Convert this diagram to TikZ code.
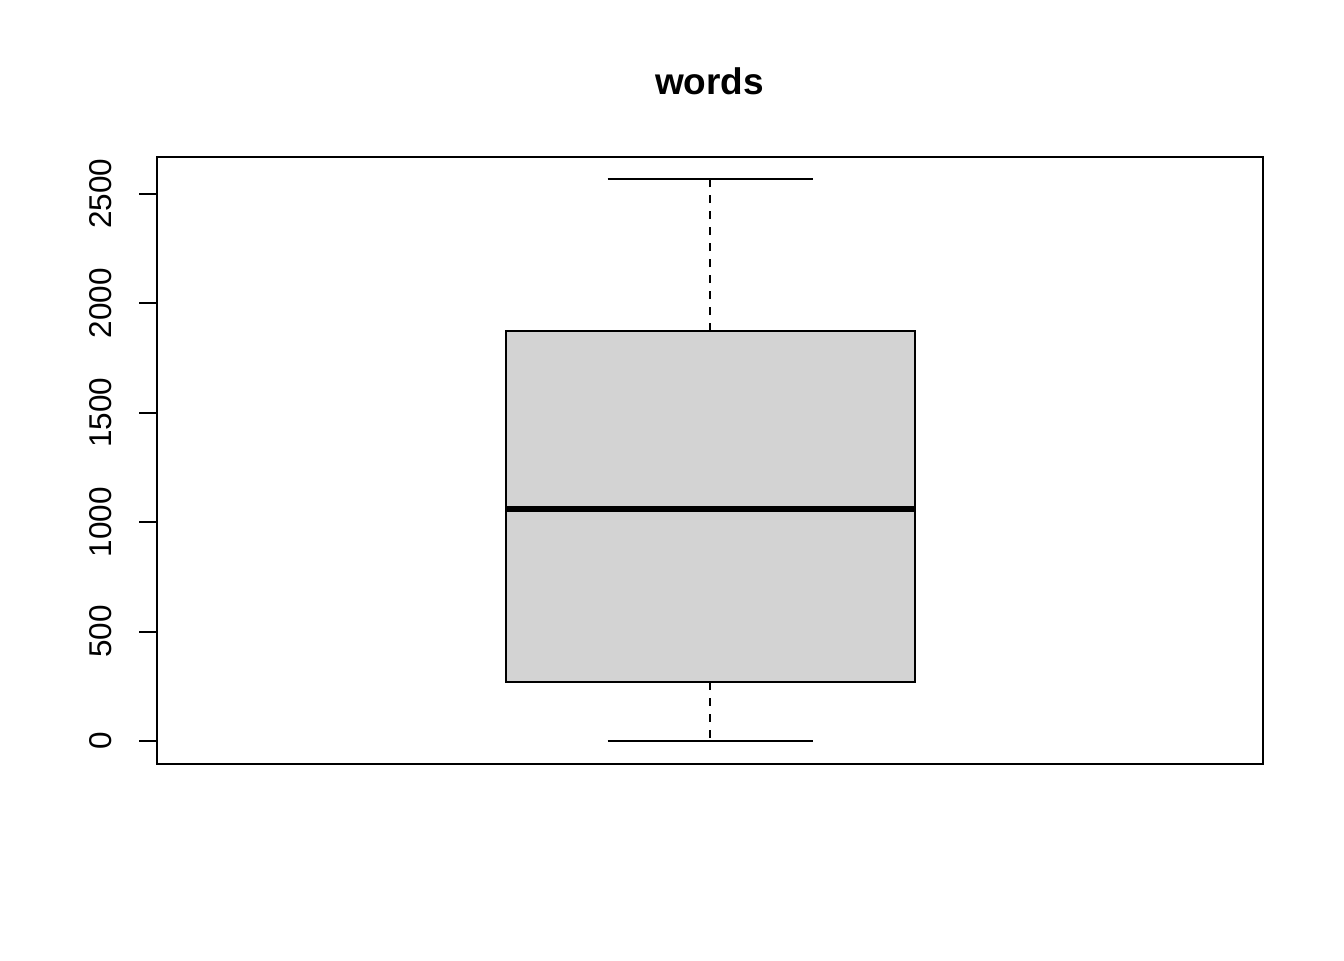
\documentclass[tikz,border=0pt]{standalone}
\usepackage{fontspec}
\setmainfont{Liberation Sans}
\tikzset{every picture/.style={line width=1pt}}
\tikzset{
  ticklabel/.style={anchor=center,inner sep=0pt,rotate=90,font=\fontsize{15.75}{18}\selectfont},
  whisker/.style={dash pattern=on 4pt off 4pt},
}

\begin{document}
\begin{tikzpicture}[x=0.5pt,y=0.5pt,yscale=-1,xscale=1]
\useasboundingbox (0,0) rectangle (1344,960);

% Text Node
\node (title) at (709.5,81) [anchor=center,inner sep=0pt] {\fontsize{18.5}{22}\selectfont\bfseries words};

%Shape: Rectangle [id:plotframe]
\draw (157,157) rectangle (1263,764);

%Shape: Rectangle [id:box]
\draw [fill={rgb, 255:red, 211; green, 211; blue, 211}] (505.5,331) rectangle (915,682);
%Straight Lines [id:median]
\draw [line width=3pt] (505.5,509) -- (915,509);

%Straight Lines [id:whiskers]
\draw [whisker] (710,331) -- (710,179);
\draw [whisker] (710,682) -- (710,741);
\draw (607.5,179) -- (812.5,179);
\draw (607.5,741) -- (812.5,741);

%Straight Lines [id:ticks]
\draw (157,741) -- (139,741);
\draw (157,631.5) -- (139,631.5);
\draw (157,522) -- (139,522);
\draw (157,412.5) -- (139,412.5);
\draw (157,303) -- (139,303);
\draw (157,193.5) -- (139,193.5);

% Text Node
\node (lab0) at (101,741) [ticklabel] {0};
% Text Node
\node (lab500) at (101,631.5) [ticklabel] {500};
% Text Node
\node (lab1000) at (101,522) [ticklabel] {1000};
% Text Node
\node (lab1500) at (101,412.5) [ticklabel] {1500};
% Text Node
\node (lab2000) at (101,303) [ticklabel] {2000};
% Text Node
\node (lab2500) at (101,193.5) [ticklabel] {2500};

\end{tikzpicture}
\end{document}
